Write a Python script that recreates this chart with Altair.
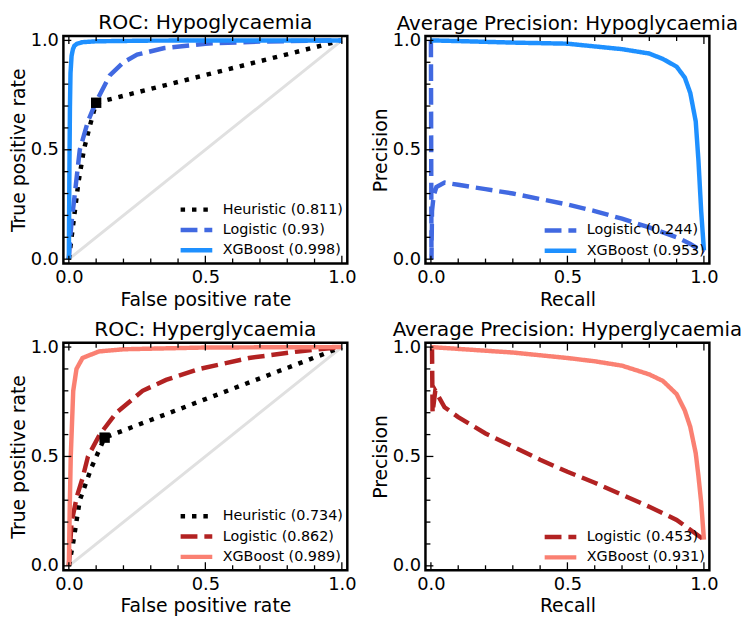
import altair as alt
import pandas as pd

FONT = "DejaVu Sans"
W, H = 287, 230

# ---------------- data ----------------
# ROC Hypoglycaemia
hypo_roc_heur_fpr = [0, 0.01, 0.02, 0.035, 0.055, 0.075, 0.1, 1.0]
hypo_roc_heur_tpr = [0, 0.1, 0.2, 0.35, 0.5, 0.6, 0.715, 1.0]
hypo_roc_log_fpr = [0, 0.005, 0.01, 0.022, 0.04, 0.07, 0.1, 0.15, 0.2, 0.25, 0.35, 0.5, 0.7, 1.0]
hypo_roc_log_tpr = [0, 0.1, 0.17, 0.3, 0.5, 0.63, 0.72, 0.84, 0.9, 0.935, 0.965, 0.985, 0.995, 1.0]
hypo_roc_xgb_fpr = [0, 0.002, 0.004, 0.006, 0.01, 0.015, 0.02, 0.03, 0.05, 0.1, 0.3, 1.0]
hypo_roc_xgb_tpr = [0, 0.4, 0.7, 0.85, 0.93, 0.96, 0.975, 0.985, 0.992, 0.996, 0.999, 1.0]
hypo_point = (0.1, 0.715)
hypo_roc_labels = ["Heuristic (0.811)", "Logistic (0.93)", "XGBoost (0.998)"]

# PR Hypoglycaemia
hypo_pr_log_rec = [0, 0.001, 0.002, 0.004, 0.01, 0.02, 0.05, 0.1, 0.2, 0.3, 0.4, 0.5, 0.6, 0.7, 0.8, 0.9, 0.95, 1.0]
hypo_pr_log_prec = [1.0, 0.5, 0.0, 0.22, 0.29, 0.33, 0.35, 0.34, 0.32, 0.3, 0.275, 0.25, 0.22, 0.185, 0.145, 0.1, 0.07, 0.03]
hypo_pr_xgb_rec = [0, 0.1, 0.3, 0.5, 0.7, 0.8, 0.85, 0.9, 0.93, 0.95, 0.97, 0.98, 0.99, 1.0]
hypo_pr_xgb_prec = [1.0, 0.997, 0.99, 0.985, 0.96, 0.94, 0.915, 0.88, 0.83, 0.76, 0.63, 0.45, 0.22, 0.04]
hypo_pr_labels = ["Logistic (0.244)", "XGBoost (0.953)"]

# ROC Hyperglycaemia
hyper_roc_heur_fpr = [0, 0.015, 0.04, 0.083, 0.131, 1.0]
hyper_roc_heur_tpr = [0, 0.1, 0.3, 0.45, 0.586, 1.0]
hyper_roc_log_fpr = [0, 0.01, 0.03, 0.05, 0.07, 0.113, 0.174, 0.27, 0.356, 0.478, 0.66, 0.84, 1.0]
hyper_roc_log_tpr = [0, 0.2, 0.32, 0.4, 0.5, 0.6, 0.7, 0.8, 0.85, 0.9, 0.95, 0.98, 1.0]
hyper_roc_xgb_fpr = [0, 0.003, 0.007, 0.016, 0.028, 0.05, 0.11, 0.2, 0.5, 1.0]
hyper_roc_xgb_tpr = [0, 0.25, 0.5, 0.8, 0.9, 0.95, 0.98, 0.99, 0.998, 1.0]
hyper_point = (0.131, 0.586)
hyper_roc_labels = ["Heuristic (0.734)", "Logistic (0.862)", "XGBoost (0.989)"]

# PR Hyperglycaemia
hyper_pr_log_rec = [0.004, 0.005, 0.006, 0.016, 0.05, 0.1, 0.2, 0.3, 0.4, 0.5, 0.6, 0.7, 0.8, 0.9, 0.95, 1.0]
hyper_pr_log_prec = [1.0, 0.85, 0.7, 0.8, 0.725, 0.68, 0.605, 0.545, 0.485, 0.43, 0.38, 0.325, 0.27, 0.21, 0.165, 0.12]
hyper_pr_xgb_rec = [0, 0.3, 0.5, 0.6, 0.7, 0.8, 0.85, 0.9, 0.93, 0.95, 0.97, 0.98, 0.99, 1.0]
hyper_pr_xgb_prec = [1.0, 0.975, 0.95, 0.935, 0.915, 0.875, 0.845, 0.785, 0.71, 0.635, 0.515, 0.41, 0.29, 0.12]
hyper_pr_labels = ["Logistic (0.453)", "XGBoost (0.931)"]

diag = [0.0, 1.0]
major_ticks = [0.0, 0.5, 1.0]
minor_ticks = [0.1, 0.2, 0.3, 0.4, 0.6, 0.7, 0.8, 0.9]

blue_colors = ["black", "#4169E1", "#1E90FF"]
red_colors = ["black", "#B22222", "#FA8072"]
dashes3 = [[4.5, 7], [17, 7], [1, 0]]


def series_df(labels, xs_list, ys_list):
    rows = []
    for lab, xs, ys in zip(labels, xs_list, ys_list):
        for i, (a, b) in enumerate(zip(xs, ys)):
            rows.append({"x": a, "y": b, "model": lab, "i": i})
    return pd.DataFrame(rows)


xscale = alt.Scale(domain=[-0.02, 1.02], nice=False, zero=False)
yscale = alt.Scale(domain=[-0.02, 1.02], nice=False, zero=False)


def panel(title, tsize, xtitle, ytitle, df, labels, colors, dashes, point=None, show_diag=True):
    xaxis = alt.Axis(values=major_ticks, format=".1f", title=xtitle)
    yaxis = alt.Axis(values=major_ticks, format=".1f", title=ytitle, titlePadding=2)
    X = lambda f: alt.X(f, scale=xscale, axis=xaxis)
    Y = lambda f: alt.Y(f, scale=yscale, axis=yaxis)
    layers = []
    if show_diag:
        dd = pd.DataFrame({"x": diag, "y": diag})
        layers.append(alt.Chart(dd).mark_line(color="#e0e0e0", strokeWidth=3).encode(
            x=X("x:Q"), y=Y("y:Q")))
    legend = alt.Legend(title=None, orient="bottom-right", offset=4, symbolType="M-2,0H2",
                        symbolSize=256, symbolStrokeWidth=4.5, labelFontSize=14.5, labelFont=FONT,
                        labelColor="black", labelOffset=16, rowPadding=0.5)
    lines = alt.Chart(df).mark_line(strokeWidth=4.5, strokeCap="butt").encode(
        x=X("x:Q"), y=Y("y:Q"),
        color=alt.Color("model:N", scale=alt.Scale(domain=labels, range=colors), legend=legend),
        strokeDash=alt.StrokeDash("model:N", scale=alt.Scale(domain=labels, range=dashes), legend=legend),
        order="i:Q",
    )
    layers.append(lines)
    if point is not None:
        pd_ = pd.DataFrame({"x": [point[0]], "y": [point[1]]})
        layers.append(alt.Chart(pd_).mark_point(shape="square", filled=True, color="black",
                                                 size=110, opacity=1).encode(
            x=X("x:Q"), y=Y("y:Q")))
    for vals, ln in [(major_ticks, 8), (minor_ticks, 5)]:
        d = pd.DataFrame({"v": vals})
        base = alt.Chart(d).mark_rule(color="black", strokeWidth=1.3)
        layers.append(base.encode(x=X("v:Q"), y=alt.value(H), y2=alt.value(H - ln)))
        layers.append(base.encode(x=X("v:Q"), y=alt.value(0), y2=alt.value(ln)))
        layers.append(base.encode(y=Y("v:Q"), x=alt.value(0), x2=alt.value(ln)))
    return alt.layer(*layers).properties(
        width=W, height=H,
        title=alt.TitleParams(title, fontSize=tsize, font=FONT, fontWeight="normal",
                              color="black", offset=-2, frame="group"),
    ).resolve_scale(color="independent", strokeDash="independent")


p1 = panel("ROC: Hypoglycaemia", 20.5, "False positive rate", "True positive rate",
           series_df(hypo_roc_labels,
                     [hypo_roc_heur_fpr, hypo_roc_log_fpr, hypo_roc_xgb_fpr],
                     [hypo_roc_heur_tpr, hypo_roc_log_tpr, hypo_roc_xgb_tpr]),
           hypo_roc_labels, blue_colors, dashes3, point=hypo_point)
p2 = panel("Average Precision: Hypoglycaemia", 20, "Recall", "Precision",
           series_df(hypo_pr_labels, [hypo_pr_log_rec, hypo_pr_xgb_rec],
                     [hypo_pr_log_prec, hypo_pr_xgb_prec]),
           hypo_pr_labels, blue_colors[1:], dashes3[1:], show_diag=False)
p3 = panel("ROC: Hyperglycaemia", 20.5, "False positive rate", "True positive rate",
           series_df(hyper_roc_labels,
                     [hyper_roc_heur_fpr, hyper_roc_log_fpr, hyper_roc_xgb_fpr],
                     [hyper_roc_heur_tpr, hyper_roc_log_tpr, hyper_roc_xgb_tpr]),
           hyper_roc_labels, red_colors, dashes3, point=hyper_point)
p4 = panel("Average Precision: Hyperglycaemia", 20, "Recall", "Precision",
           series_df(hyper_pr_labels, [hyper_pr_log_rec, hyper_pr_xgb_rec],
                     [hyper_pr_log_prec, hyper_pr_xgb_prec]),
           hyper_pr_labels, red_colors[1:], dashes3[1:], show_diag=False)

chart = alt.vconcat(
    alt.hconcat(p1, p2, spacing=12),
    alt.hconcat(p3, p4, spacing=12),
    spacing=7,
).resolve_scale(color="independent", strokeDash="independent").properties(
    background="white", padding=0
).configure_view(
    stroke="black", strokeWidth=2.5
).configure_axis(
    labelFont=FONT, labelFontSize=18, labelColor="black", titleFont=FONT, titleFontSize=19,
    titleFontWeight="normal", titleColor="black", grid=False, domain=False, ticks=False,
    labelPadding=5, titlePadding=4,
)

chart.save("out.html", embed_options={"renderer": "svg", "actions": False})
